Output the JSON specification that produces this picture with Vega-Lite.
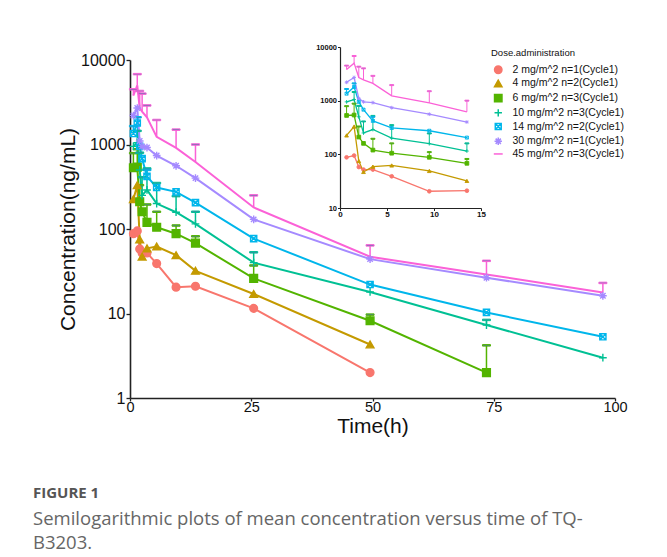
{
  "$schema": "https://vega.github.io/schema/vega-lite/v6.json",
  "width": 485,
  "height": 338,
  "autosize": "none",
  "padding": {"left": 130, "top": 60, "right": 52, "bottom": 159},
  "background": "white",
  "config": {
    "font": "Liberation Sans",
    "view": {"stroke": null},
    "axis": {"grid": false, "domainColor": "#222", "tickColor": "#222", "labelColor": "#111", "titleColor": "#111", "titleFontWeight": "normal"},
    "legend": {"orient": "none", "legendX": 361, "legendY": -12, "titleFontSize": 9.5, "titleFontWeight": "normal", "titleColor": "#111", "labelFontSize": 10.5, "labelColor": "#111", "symbolSize": 55, "symbolStrokeWidth": 1.5, "rowPadding": 0.7, "symbolOffset": 2, "labelOffset": 9, "titlePadding": 7}
  },
  "datasets": {
    "pk": [
      {"d": "\u20072 mg/m^2 n=1(Cycle1)", "t": 0.7, "c": 88},
      {"d": "\u20072 mg/m^2 n=1(Cycle1)", "t": 1.5, "c": 95},
      {"d": "\u20072 mg/m^2 n=1(Cycle1)", "t": 2, "c": 58},
      {"d": "\u20072 mg/m^2 n=1(Cycle1)", "t": 2.5, "c": 52},
      {"d": "\u20072 mg/m^2 n=1(Cycle1)", "t": 3.5, "c": 52},
      {"d": "\u20072 mg/m^2 n=1(Cycle1)", "t": 5.5, "c": 39},
      {"d": "\u20072 mg/m^2 n=1(Cycle1)", "t": 9.5, "c": 20.5},
      {"d": "\u20072 mg/m^2 n=1(Cycle1)", "t": 13.5, "c": 21},
      {"d": "\u20072 mg/m^2 n=1(Cycle1)", "t": 25.5, "c": 11.5},
      {"d": "\u20072 mg/m^2 n=1(Cycle1)", "t": 49.5, "c": 2.0},
      {"d": "\u20074 mg/m^2 n=2(Cycle1)", "t": 0.7, "c": 225},
      {"d": "\u20074 mg/m^2 n=2(Cycle1)", "t": 1.5, "c": 330},
      {"d": "\u20074 mg/m^2 n=2(Cycle1)", "t": 2, "c": 75},
      {"d": "\u20074 mg/m^2 n=2(Cycle1)", "t": 2.5, "c": 47},
      {"d": "\u20074 mg/m^2 n=2(Cycle1)", "t": 3.5, "c": 59},
      {"d": "\u20074 mg/m^2 n=2(Cycle1)", "t": 5.5, "c": 62},
      {"d": "\u20074 mg/m^2 n=2(Cycle1)", "t": 9.5, "c": 49},
      {"d": "\u20074 mg/m^2 n=2(Cycle1)", "t": 13.5, "c": 32},
      {"d": "\u20074 mg/m^2 n=2(Cycle1)", "t": 25.5, "c": 17},
      {"d": "\u20074 mg/m^2 n=2(Cycle1)", "t": 49.5, "c": 4.3},
      {"d": "\u20076 mg/m^2 n=3(Cycle1)", "t": 0.7, "c": 530, "u": 790},
      {"d": "\u20076 mg/m^2 n=3(Cycle1)", "t": 1.5, "c": 540, "u": 880},
      {"d": "\u20076 mg/m^2 n=3(Cycle1)", "t": 2, "c": 210, "u": 330},
      {"d": "\u20076 mg/m^2 n=3(Cycle1)", "t": 2.5, "c": 160},
      {"d": "\u20076 mg/m^2 n=3(Cycle1)", "t": 3.5, "c": 120, "u": 195},
      {"d": "\u20076 mg/m^2 n=3(Cycle1)", "t": 5.5, "c": 105, "u": 160},
      {"d": "\u20076 mg/m^2 n=3(Cycle1)", "t": 9.5, "c": 88, "u": 110},
      {"d": "\u20076 mg/m^2 n=3(Cycle1)", "t": 13.5, "c": 68, "u": 82},
      {"d": "\u20076 mg/m^2 n=3(Cycle1)", "t": 25.5, "c": 26, "u": 37},
      {"d": "\u20076 mg/m^2 n=3(Cycle1)", "t": 49.5, "c": 8.2, "u": 9.7},
      {"d": "\u20076 mg/m^2 n=3(Cycle1)", "t": 73.5, "c": 2.0, "u": 4.2},
      {"d": "10 mg/m^2 n=3(Cycle1)", "t": 0.7, "c": 950},
      {"d": "10 mg/m^2 n=3(Cycle1)", "t": 1.5, "c": 1050, "u": 1450},
      {"d": "10 mg/m^2 n=3(Cycle1)", "t": 2, "c": 500, "u": 800},
      {"d": "10 mg/m^2 n=3(Cycle1)", "t": 2.5, "c": 250, "u": 410},
      {"d": "10 mg/m^2 n=3(Cycle1)", "t": 3.5, "c": 290, "u": 520},
      {"d": "10 mg/m^2 n=3(Cycle1)", "t": 5.5, "c": 200, "u": 350},
      {"d": "10 mg/m^2 n=3(Cycle1)", "t": 9.5, "c": 158, "u": 245},
      {"d": "10 mg/m^2 n=3(Cycle1)", "t": 13.5, "c": 115, "u": 160},
      {"d": "10 mg/m^2 n=3(Cycle1)", "t": 25.5, "c": 40, "u": 53},
      {"d": "10 mg/m^2 n=3(Cycle1)", "t": 49.5, "c": 18},
      {"d": "10 mg/m^2 n=3(Cycle1)", "t": 73.5, "c": 7.3, "u": 8.4},
      {"d": "10 mg/m^2 n=3(Cycle1)", "t": 97.5, "c": 3.0},
      {"d": "14 mg/m^2 n=2(Cycle1)", "t": 0.7, "c": 1350, "u": 1650},
      {"d": "14 mg/m^2 n=2(Cycle1)", "t": 1.5, "c": 1800, "u": 2100},
      {"d": "14 mg/m^2 n=2(Cycle1)", "t": 2, "c": 950},
      {"d": "14 mg/m^2 n=2(Cycle1)", "t": 2.5, "c": 680},
      {"d": "14 mg/m^2 n=2(Cycle1)", "t": 3.5, "c": 420, "u": 500},
      {"d": "14 mg/m^2 n=2(Cycle1)", "t": 5.5, "c": 310},
      {"d": "14 mg/m^2 n=2(Cycle1)", "t": 9.5, "c": 275},
      {"d": "14 mg/m^2 n=2(Cycle1)", "t": 13.5, "c": 205},
      {"d": "14 mg/m^2 n=2(Cycle1)", "t": 25.5, "c": 77},
      {"d": "14 mg/m^2 n=2(Cycle1)", "t": 49.5, "c": 22},
      {"d": "14 mg/m^2 n=2(Cycle1)", "t": 73.5, "c": 10.3},
      {"d": "14 mg/m^2 n=2(Cycle1)", "t": 97.5, "c": 5.3},
      {"d": "30 mg/m^2 n=1(Cycle1)", "t": 0.7, "c": 2200},
      {"d": "30 mg/m^2 n=1(Cycle1)", "t": 1.5, "c": 2700},
      {"d": "30 mg/m^2 n=1(Cycle1)", "t": 2, "c": 1100},
      {"d": "30 mg/m^2 n=1(Cycle1)", "t": 2.5, "c": 950},
      {"d": "30 mg/m^2 n=1(Cycle1)", "t": 3.5, "c": 920},
      {"d": "30 mg/m^2 n=1(Cycle1)", "t": 5.5, "c": 740},
      {"d": "30 mg/m^2 n=1(Cycle1)", "t": 9.5, "c": 560},
      {"d": "30 mg/m^2 n=1(Cycle1)", "t": 13.5, "c": 400},
      {"d": "30 mg/m^2 n=1(Cycle1)", "t": 25.5, "c": 130},
      {"d": "30 mg/m^2 n=1(Cycle1)", "t": 49.5, "c": 44},
      {"d": "30 mg/m^2 n=1(Cycle1)", "t": 73.5, "c": 26.5},
      {"d": "30 mg/m^2 n=1(Cycle1)", "t": 97.5, "c": 16.2},
      {"d": "45 mg/m^2 n=3(Cycle1)", "t": 0.7, "c": 3800, "u": 4500},
      {"d": "45 mg/m^2 n=3(Cycle1)", "t": 1.5, "c": 5000, "u": 6800},
      {"d": "45 mg/m^2 n=3(Cycle1)", "t": 2, "c": 2700, "u": 4300},
      {"d": "45 mg/m^2 n=3(Cycle1)", "t": 2.5, "c": 2450, "u": 4000},
      {"d": "45 mg/m^2 n=3(Cycle1)", "t": 3.5, "c": 2100, "u": 2900},
      {"d": "45 mg/m^2 n=3(Cycle1)", "t": 5.5, "c": 1230, "u": 1950},
      {"d": "45 mg/m^2 n=3(Cycle1)", "t": 9.5, "c": 910, "u": 1500},
      {"d": "45 mg/m^2 n=3(Cycle1)", "t": 13.5, "c": 620, "u": 1000},
      {"d": "45 mg/m^2 n=3(Cycle1)", "t": 25.5, "c": 180, "u": 250},
      {"d": "45 mg/m^2 n=3(Cycle1)", "t": 49.5, "c": 47, "u": 64},
      {"d": "45 mg/m^2 n=3(Cycle1)", "t": 73.5, "c": 29, "u": 42},
      {"d": "45 mg/m^2 n=3(Cycle1)", "t": 97.5, "c": 17.7, "u": 23}
    ]
  },
  "data": {"name": "pk"},
  "title": {
    "text": "FIGURE 1",
    "subtitle": ["Semilogarithmic plots of mean concentration versus time of TQ-", "B3203."],
    "orient": "bottom",
    "anchor": "start",
    "frame": "group",
    "dx": -97,
    "offset": 49,
    "font": "Open Sans",
    "fontSize": 15,
    "fontWeight": "bold",
    "color": "#555555",
    "subtitleFont": "Open Sans",
    "subtitleFontSize": 18.5,
    "subtitleColor": "#666666",
    "subtitlePadding": 9,
    "subtitleLineHeight": 24
  },
  "layer": [
    {
      "encoding": {
        "x": {"field": "t", "type": "quantitative", "title": "Time(h)",
          "scale": {"domain": [0, 100], "nice": false, "zero": false},
          "axis": {"values": [0, 25, 50, 75, 100], "labelFontSize": 14.5, "titleFontSize": 21, "tickSize": 3, "domainWidth": 1.6, "tickWidth": 1.3, "labelPadding": -1, "titlePadding": 2, "labelFlush": false}},
        "y": {"field": "c", "type": "quantitative", "title": "Concentration(ng/mL)",
          "scale": {"type": "log", "domain": [1, 10000], "nice": false},
          "axis": {"values": [1, 10, 100, 1000, 10000], "format": "d", "labelFontSize": 16, "titleFontSize": 21, "tickSize": 4, "domainWidth": 1.6, "tickWidth": 1.3, "labelPadding": 1, "titlePadding": 2}}
      },
      "layer": [
        {
          "mark": {"type": "line", "strokeWidth": 2},
          "encoding": {
            "stroke": {"field": "d", "type": "nominal", "title": "Dose.administration",
              "scale": {"domain": ["\u20072 mg/m^2 n=1(Cycle1)", "\u20074 mg/m^2 n=2(Cycle1)", "\u20076 mg/m^2 n=3(Cycle1)", "10 mg/m^2 n=3(Cycle1)", "14 mg/m^2 n=2(Cycle1)", "30 mg/m^2 n=1(Cycle1)", "45 mg/m^2 n=3(Cycle1)"],
                "range": ["#F8766D", "#C49A00", "#53B400", "#00C094", "#00B6EB", "#A58AFF", "#FB61D7"]}}
          }
        },
        {
          "transform": [{"filter": "isValid(datum.u)"}],
          "mark": {"type": "rule", "strokeWidth": 1.5},
          "encoding": {
            "y2": {"field": "u"},
            "stroke": {"field": "d", "type": "nominal", "title": "Dose.administration"}
          }
        },
        {
          "transform": [{"filter": "isValid(datum.u)"}],
          "mark": {"type": "tick", "orient": "horizontal", "size": 8, "thickness": 1.5, "opacity": 1},
          "encoding": {
            "y": {"field": "u", "type": "quantitative", "title": "Concentration(ng/mL)"},
            "stroke": {"field": "d", "type": "nominal", "title": "Dose.administration"}
          }
        },
        {
          "transform": [{"filter": "datum.d != '45 mg/m^2 n=3(Cycle1)'"}],
          "mark": {"type": "point", "size": 60, "strokeWidth": 1.4, "opacity": 1},
          "encoding": {
            "stroke": {"field": "d", "type": "nominal", "title": "Dose.administration"},
            "fill": {"field": "d", "type": "nominal", "title": "Dose.administration",
              "scale": {"domain": ["\u20072 mg/m^2 n=1(Cycle1)", "\u20074 mg/m^2 n=2(Cycle1)", "\u20076 mg/m^2 n=3(Cycle1)", "10 mg/m^2 n=3(Cycle1)", "14 mg/m^2 n=2(Cycle1)", "30 mg/m^2 n=1(Cycle1)", "45 mg/m^2 n=3(Cycle1)"],
                "range": ["#F8766D", "#C49A00", "#53B400", "transparent", "transparent", "transparent", "transparent"]}},
            "shape": {"field": "d", "type": "nominal", "title": "Dose.administration",
              "scale": {"domain": ["\u20072 mg/m^2 n=1(Cycle1)", "\u20074 mg/m^2 n=2(Cycle1)", "\u20076 mg/m^2 n=3(Cycle1)", "10 mg/m^2 n=3(Cycle1)", "14 mg/m^2 n=2(Cycle1)", "30 mg/m^2 n=1(Cycle1)", "45 mg/m^2 n=3(Cycle1)"],
                "range": ["circle", "triangle-up", "square", "M-1,0L1,0M0,-1L0,1", "M-0.8,-0.8L0.8,-0.8L0.8,0.8L-0.8,0.8ZM-0.8,-0.8L0.8,0.8M-0.8,0.8L0.8,-0.8", "M-1,0L1,0M0,-1L0,1M-0.7,-0.7L0.7,0.7M-0.7,0.7L0.7,-0.7", "M-1.2,0L1.2,0"]}}
          }
        }
      ]
    },
    {
      "transform": [{"filter": "datum.t <= 15"}],
      "encoding": {
        "x": {"field": "t", "type": "quantitative", "title": null,
          "scale": {"domain": [0, 15], "range": [210, 351], "nice": false, "zero": false},
          "axis": {"orient": "bottom", "offset": -190, "values": [0, 5, 10, 15], "title": null, "labelFontSize": 8, "labelFontWeight": "bold", "tickSize": 2.5, "labelPadding": 0, "domainWidth": 1.2, "tickWidth": 1, "labelFlush": false}},
        "y": {"field": "c", "type": "quantitative", "title": null,
          "scale": {"type": "log", "domain": [10, 10000], "range": [148, -13], "nice": false},
          "axis": {"orient": "left", "offset": -210, "values": [10, 100, 1000, 10000], "format": "d", "title": null, "labelFontSize": 7.5, "labelFontWeight": "bold", "tickSize": 2.5, "labelPadding": 1, "domainWidth": 1.2, "tickWidth": 1}}
      },
      "layer": [
        {
          "mark": {"type": "line", "strokeWidth": 1.3},
          "encoding": {"stroke": {"field": "d", "type": "nominal", "title": "Dose.administration"}}
        },
        {
          "transform": [{"filter": "isValid(datum.u)"}],
          "mark": {"type": "rule", "strokeWidth": 1},
          "encoding": {
            "y2": {"field": "u"},
            "stroke": {"field": "d", "type": "nominal", "title": "Dose.administration"}
          }
        },
        {
          "transform": [{"filter": "isValid(datum.u)"}],
          "mark": {"type": "tick", "orient": "horizontal", "size": 4, "thickness": 1, "opacity": 1},
          "encoding": {
            "y": {"field": "u", "type": "quantitative", "title": null},
            "stroke": {"field": "d", "type": "nominal", "title": "Dose.administration"}
          }
        },
        {
          "transform": [{"filter": "datum.d != '45 mg/m^2 n=3(Cycle1)'"}],
          "mark": {"type": "point", "size": 14, "strokeWidth": 0.9, "opacity": 1},
          "encoding": {
            "stroke": {"field": "d", "type": "nominal", "title": "Dose.administration"},
            "fill": {"field": "d", "type": "nominal", "title": "Dose.administration"},
            "shape": {"field": "d", "type": "nominal", "title": "Dose.administration"}
          }
        }
      ]
    }
  ],
  "resolve": {"scale": {"x": "independent", "y": "independent"}}
}
